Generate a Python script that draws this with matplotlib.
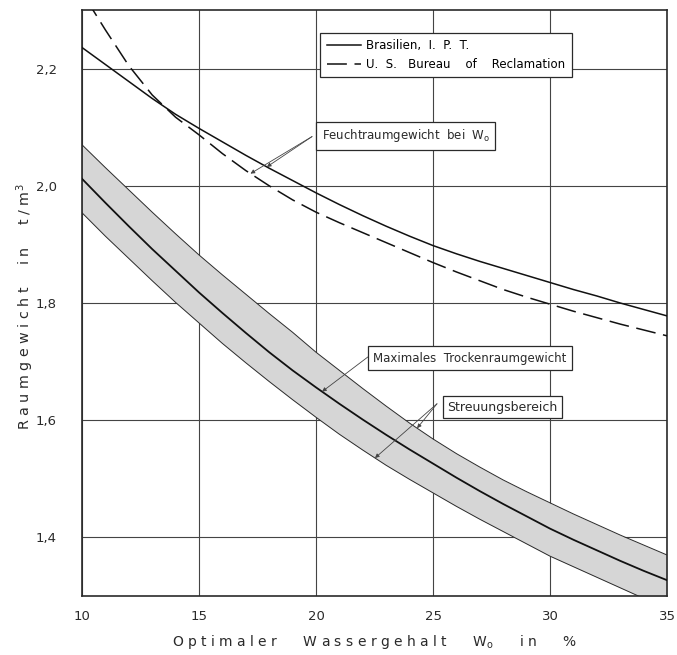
import numpy as np
import matplotlib
matplotlib.use("Agg")
import matplotlib.pyplot as plt

# ---- data (optimaler Wassergehalt W_o in %) ----
w = list(range(10, 36))
brasilien = [2.236, 2.207, 2.178, 2.149, 2.122, 2.098, 2.075, 2.052, 2.030, 2.009,
             1.988, 1.968, 1.949, 1.931, 1.914, 1.898, 1.884, 1.871, 1.859, 1.847,
             1.835, 1.823, 1.812, 1.800, 1.789, 1.778]
usbr = [2.330, 2.266, 2.205, 2.155, 2.117, 2.087, 2.055, 2.026, 2.000, 1.976,
        1.955, 1.937, 1.920, 1.903, 1.886, 1.869, 1.853, 1.838, 1.823, 1.810,
        1.798, 1.786, 1.775, 1.764, 1.754, 1.744]
max_trocken = [2.012, 1.971, 1.931, 1.892, 1.855, 1.818, 1.783, 1.749, 1.716, 1.685,
               1.656, 1.628, 1.601, 1.575, 1.550, 1.526, 1.502, 1.479, 1.457, 1.436,
               1.415, 1.396, 1.378, 1.360, 1.343, 1.327]
band_upper = [2.070, 2.031, 1.993, 1.955, 1.918, 1.882, 1.848, 1.815, 1.782, 1.750,
              1.716, 1.685, 1.654, 1.624, 1.595, 1.568, 1.543, 1.520, 1.498, 1.478,
              1.459, 1.440, 1.422, 1.404, 1.387, 1.370]
band_lower = [1.954, 1.914, 1.876, 1.838, 1.801, 1.766, 1.731, 1.698, 1.666, 1.635,
              1.605, 1.576, 1.549, 1.523, 1.499, 1.476, 1.453, 1.431, 1.410, 1.389,
              1.368, 1.350, 1.332, 1.314, 1.296, 1.278]

xticks = [10, 15, 20, 25, 30, 35]
yticks = [1.4, 1.6, 1.8, 2.0, 2.2]
ytick_labels = ["1,4", "1,6", "1,8", "2,0", "2,2"]

plt.rcParams['font.family'] = ['DejaVu Sans']
ink = '#2a2a2a'

fig = plt.figure(figsize=(6.77, 6.55), dpi=100)
ax = fig.add_axes([82/677, 1-596/655, 585/677, 586/655])

ax.fill_between(w, band_lower, band_upper, color='#d6d6d6', lw=0, zorder=1)
ax.plot(w, band_upper, color=ink, lw=0.7, zorder=3)
ax.plot(w, band_lower, color=ink, lw=0.7, zorder=3)
ax.plot(w, max_trocken, color='#111111', lw=1.3, zorder=4)
l1, = ax.plot(w, brasilien, color='#111111', lw=1.1, zorder=4, label='Brasilien,  I.  P.  T.')
l2, = ax.plot(w, usbr, color='#111111', lw=1.1, ls=(0, (13, 5)), zorder=4,
              label='U.  S.   Bureau    of    Reclamation')

ax.set_xlim(10, 35)
ax.set_ylim(1.3, 2.3)
ax.set_xticks(xticks)
ax.set_yticks(yticks)
ax.set_yticklabels(ytick_labels)
ax.tick_params(length=0, labelsize=9.5, colors=ink)
ax.tick_params(axis='y', pad=18)
ax.tick_params(axis='x', pad=10)
ax.grid(True, color='#444444', lw=0.8, zorder=0)
ax.set_axisbelow(True)
for s in ax.spines.values():
    s.set_color(ink)
    s.set_linewidth(1.2)

leg = ax.legend(handles=[l1, l2], loc='upper left', bbox_to_anchor=(0.407, 0.961),
                frameon=True, fancybox=False, edgecolor=ink, fontsize=8.5,
                handlelength=2.9, borderpad=0.55, labelspacing=0.45, handletextpad=0.45,
                borderaxespad=0)
leg.get_frame().set_linewidth(0.9)
leg.get_frame().set_alpha(1)
leg.set_zorder(6)

boxprops = dict(boxstyle='square,pad=0.45', fc='white', ec=ink, lw=0.9)
arrow = dict(arrowstyle='-|>', lw=0.6, color='#444444', mutation_scale=6, shrinkA=0, shrinkB=0)

def on(curve, x):
    return float(np.interp(x, w, curve))

# Feuchtraumgewicht
ax.text(23.83, 2.0855, r'Feuchtraumgewicht  bei  W$_\mathregular{o}$', fontsize=8.5, ha='center',
        va='center', bbox=boxprops, zorder=6, color=ink)
start = (19.83, 2.084)
ax.annotate('', xy=(17.2, on(usbr, 17.2)), xytext=start, arrowprops=arrow, zorder=5)
ax.annotate('', xy=(17.9, on(brasilien, 17.9)), xytext=start, arrowprops=arrow, zorder=5)

# Maximales Trockenraumgewicht
ax.text(26.58, 1.706, 'Maximales  Trockenraumgewicht', fontsize=8.5, ha='center', va='center',
        bbox=boxprops, zorder=6, color=ink)
ax.annotate('', xy=(20.26, on(max_trocken, 20.26)), xytext=(22.22, 1.708), arrowprops=arrow, zorder=5)

# Streuungsbereich
ax.text(27.95, 1.622, 'Streuungsbereich', fontsize=9, ha='center', va='center',
        bbox=dict(boxstyle='square,pad=0.35', fc='white', ec=ink, lw=0.9), zorder=6, color=ink)
start = (25.17, 1.628)
ax.annotate('', xy=(24.32, on(band_upper, 24.32)), xytext=start, arrowprops=arrow, zorder=5)
ax.annotate('', xy=(22.52, on(band_lower, 22.52)), xytext=start, arrowprops=arrow, zorder=5)

fig.text(25/677, 1-307/655, r'R a u m g e w i c h t     i n     t / m$^\mathregular{3}$', rotation=90,
         ha='center', va='center', fontsize=10.3, color=ink)
fig.text(375/677, 1-642/655,
         r'O p t i m a l e r      W a s s e r g e h a l t      W$_\mathregular{o}$      i n      %',
         ha='center', va='center', fontsize=10, color=ink)

fig.savefig('out.png', dpi=100, facecolor='white')
